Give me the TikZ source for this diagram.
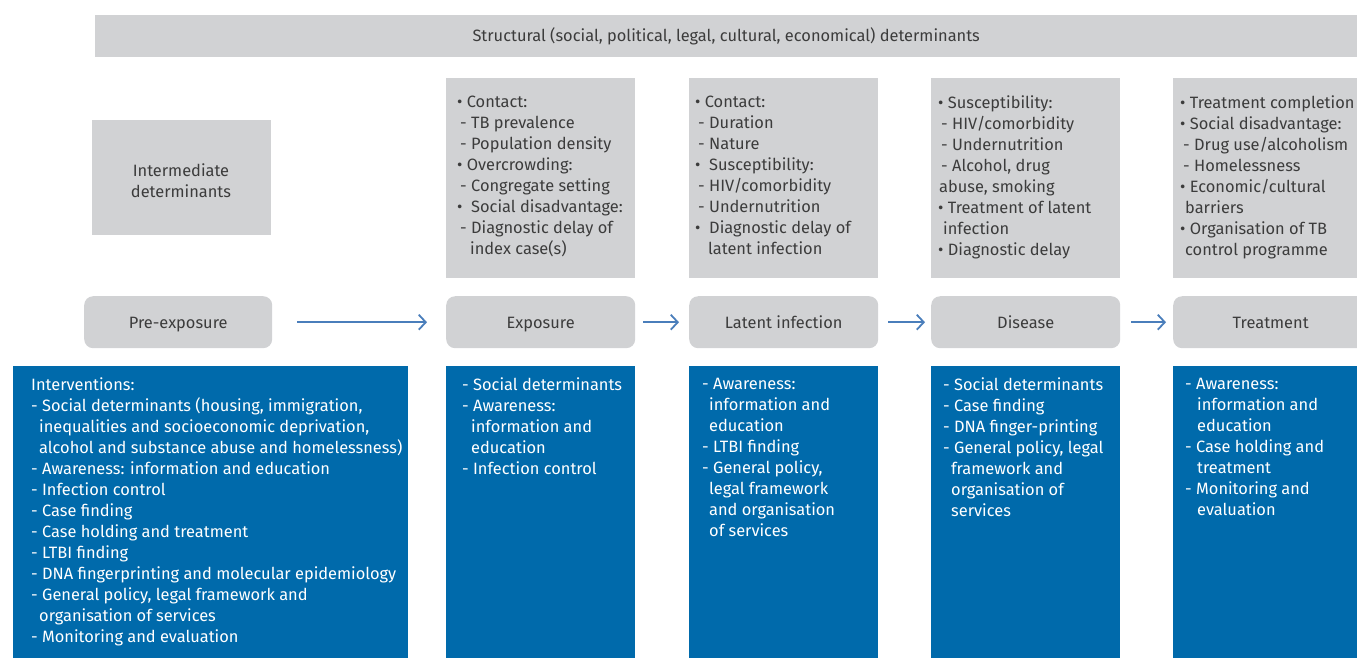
\documentclass[tikz,border=0pt]{standalone}
\usepackage{fontspec}
\setmainfont{Fira Sans}
\usetikzlibrary{arrows.meta}
\definecolor{boxgray}{HTML}{D1D2D4}
\definecolor{boxblue}{HTML}{006AAB}
\definecolor{arrowblue}{HTML}{4A7EBB}
\definecolor{txtgray}{HTML}{3C3C3C}
\newcommand{\ii}[1]{\hspace*{#1pt}}
\newcommand{\fs}{\fontsize{16.4}{21}\selectfont}
\newcommand{\tl}{\vphantom{lb}}
\tikzset{
  graybox/.style={fill=boxgray, draw=none, inner sep=0pt, anchor=north west},
  bluebox/.style={fill=boxblue, draw=none, inner sep=0pt, anchor=north west},
  stage/.style={fill=boxgray, draw=none, rounded corners=9pt, minimum height=52pt, inner sep=0pt, anchor=north west, text=txtgray, font=\fs, text height=13.5pt, text depth=1.5pt},
  gtext/.style={anchor=north west, inner sep=0pt, align=left, text=txtgray, font=\fs},
  wtext/.style={anchor=north west, inner sep=0pt, align=left, text=white, font=\fs},
  flow/.style={draw=arrowblue, line width=1.8pt, -{Straight Barb[length=7pt,width=15pt,line width=1.8pt]}}
}
\begin{document}
\begin{tikzpicture}[x=1pt,y=-1pt]
\useasboundingbox (0,0) rectangle (1357,657);
% top banner
\node[graybox, minimum width=1262pt, minimum height=42pt, text=txtgray, font=\fs] (struct) at (95,15) {Structural (social, political, legal, cultural, economical) determinants};
% intermediate
\node[graybox, minimum width=179pt, minimum height=115pt] (inter) at (92,120) {};
\node[text=txtgray, align=center, font=\fs, inner sep=0pt] (intert) at (181,181) {Intermediate\\determinants};
% gray determinant boxes
\node[graybox, minimum width=189pt, minimum height=200pt] (gexp) at (446,78) {};
\node[graybox, minimum width=189pt, minimum height=200pt] (glat) at (689,78) {};
\node[graybox, minimum width=189pt, minimum height=200pt] (gdis) at (931,78) {};
\node[graybox, minimum width=184pt, minimum height=200pt] (gtre) at (1173,78) {};
\node[gtext] (gexpt) at (457,95) {\tl\textbullet\ Contact:\\
\ii{3}- TB prevalence\\
\ii{3}- Population density\\
\textbullet\ Overcrowding:\\
\ii{3}- Congregate setting\\
\textbullet\ \ Social disadvantage:\\
\ii{3}- Diagnostic delay of\\
\ii{13}index case(s)};
\node[gtext] (glatt) at (695,95) {\tl\textbullet\ Contact:\\
\ii{3}- Duration\\
\ii{3}- Nature\\
\textbullet\ \ Susceptibility:\\
\ii{3}- HIV/comorbidity\\
\ii{3}- Undernutrition\\
\textbullet\ \ Diagnostic delay of\\
\ii{13}latent infection};
\node[gtext] (gdist) at (938,95) {\tl\textbullet\ Susceptibility:\\
\ii{3}- HIV/comorbidity\\
\ii{3}- Undernutrition\\
\ii{3}- Alcohol, drug\\
\ii{1}abuse, smoking\\
\textbullet\ Treatment of latent\\
\ii{5}infection\\
\textbullet\ Diagnostic delay};
\node[gtext] (gtret) at (1180,95) {\tl\textbullet\ Treatment completion\\
\textbullet\ Social disadvantage:\\
\ii{3}- Drug use/alcoholism\\
\ii{3}- Homelessness\\
\textbullet\ Economic/cultural\\
\ii{5}barriers\\
\textbullet\ Organisation of TB\\
\ii{5}control programme};
% stages
\node[stage, minimum width=188pt] (pre) at (84,296) {Pre-exposure};
\node[stage, minimum width=189pt] (exp) at (446,296) {Exposure};
\node[stage, minimum width=189pt] (lat) at (689,296) {Latent infection};
\node[stage, minimum width=189pt] (dis) at (931,296) {Disease};
\node[stage, minimum width=195pt] (tre) at (1173,296) {Treatment};
\draw[flow, shorten <=25pt, shorten >=19pt] (pre.east) -- (exp.west);
\draw[flow, shorten <=8pt, shorten >=10pt] (exp.east) -- (lat.west);
\draw[flow, shorten <=10pt, shorten >=6pt] (lat.east) -- (dis.west);
\draw[flow, shorten <=11pt, shorten >=7pt] (dis.east) -- (tre.west);
% blue boxes
\node[bluebox, minimum width=395pt, minimum height=292pt] (bpre) at (13,366) {};
\node[bluebox, minimum width=189pt, minimum height=292pt] (bexp) at (446,366) {};
\node[bluebox, minimum width=189pt, minimum height=292pt] (blat) at (689,366) {};
\node[bluebox, minimum width=189pt, minimum height=292pt] (bdis) at (931,366) {};
\node[bluebox, minimum width=184pt, minimum height=292pt] (btre) at (1173,366) {};
\node[wtext] (bpret) at (31,377) {\tl Interventions:\\
- Social determinants (housing, immigration,\\
\ii{8}inequalities and socioeconomic deprivation,\\
\ii{8}alcohol and substance abuse and homelessness)\\
- Awareness: information and education\\
- Infection control\\
- Case finding\\
- Case holding and treatment\\
- LTBI finding\\
- DNA fingerprinting and molecular epidemiology\\
- General policy, legal framework and\\
\ii{8}organisation of services\\
- Monitoring and evaluation};
\node[wtext] (bexpt) at (462,377) {\tl- Social determinants\\
- Awareness:\\
\ii{9}information and\\
\ii{9}education\\
- Infection control};
\node[wtext] (blatt) at (702,377) {\tl- Awareness:\\
\ii{7}information and\\
\ii{7}education\\
- LTBI finding\\
- General policy,\\
\ii{7}legal framework\\
\ii{7}and organisation\\
\ii{7}of services};
\node[wtext] (bdist) at (943,377) {\tl- Social determinants\\
- Case finding\\
- DNA finger-printing\\
- General policy, legal\\
\ii{8}framework and\\
\ii{8}organisation of\\
\ii{8}services};
\node[wtext] (btret) at (1185,377) {\tl- Awareness:\\
\ii{12}information and\\
\ii{12}education\\
- Case holding and\\
\ii{12}treatment\\
- Monitoring and\\
\ii{12}evaluation};
\end{tikzpicture}
\end{document}
